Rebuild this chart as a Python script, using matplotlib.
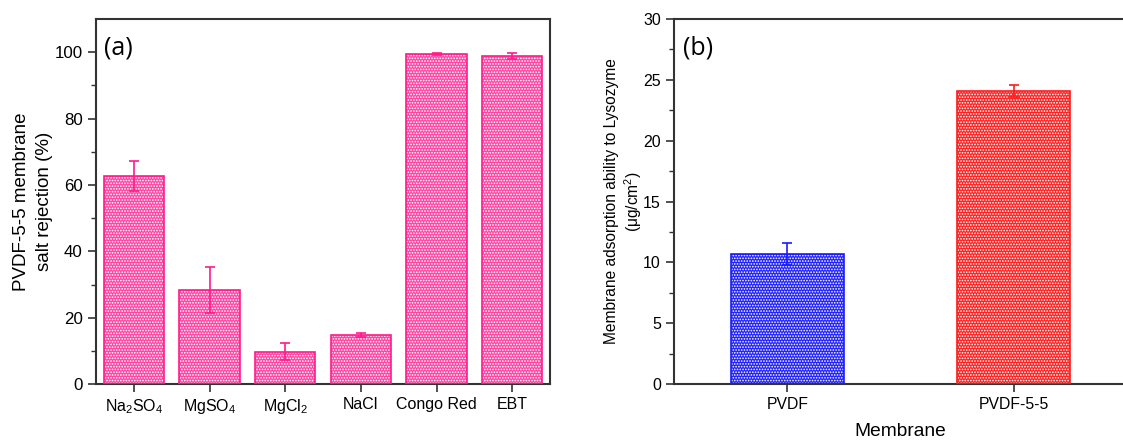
import numpy as np
import matplotlib
matplotlib.use("Agg")
import matplotlib.pyplot as plt

plt.rcParams['font.family'] = ['Liberation Sans', 'DejaVu Sans']
plt.rcParams['mathtext.default'] = 'regular'
plt.rcParams['hatch.linewidth'] = 0.8

# panel (a): salt / dye rejection
salts = [r'Na$_2$SO$_4$', r'MgSO$_4$', r'MgCl$_2$', 'NaCl', 'Congo Red', 'EBT']
rejection = [62.8, 28.4, 9.8, 14.8, 99.4, 98.8]
rejection_err = [4.5, 6.9, 2.6, 0.5, 0.2, 1.0]

# panel (b): lysozyme adsorption
membranes = ['PVDF', 'PVDF-5-5']
adsorption = [10.7, 24.1]
adsorption_err = [0.9, 0.5]

fig = plt.figure(figsize=(11.23, 4.41), dpi=100)
ax1 = fig.add_axes([0.0855, 0.129, 0.4043, 0.828])
ax2 = fig.add_axes([0.6002, 0.129, 0.4034, 0.828])

spine_c = '#333333'


def hatched_bars(ax, x, h, err, face, edge, width):
    ax.bar(x, h, width, color=face, hatch='......', edgecolor='white', linewidth=0, zorder=2)
    ax.bar(x, h, width, facecolor='none', edgecolor=edge, linewidth=1.2, zorder=3)
    ax.errorbar(x, h, yerr=err, fmt='none', ecolor=edge, elinewidth=1.2,
                capsize=3.5, capthick=1.2, zorder=4)


xa = np.arange(len(salts))
hatched_bars(ax1, xa, rejection, rejection_err, '#ff45a2', '#ff1a8c', 0.8)
ax1.set_xlim(-0.5, len(salts) - 0.5)
ax1.set_ylim(0, 110)
ax1.set_xticks(xa)
ax1.set_xticklabels(salts, fontsize=11.5)
ax1.set_yticks(np.arange(0, 101, 20))
ax1.set_yticks(np.arange(10, 110, 20), minor=True)
ax1.set_ylabel('PVDF-5-5 membrane\nsalt rejection (%)', fontsize=13.5, labelpad=1,
               linespacing=1.5)
ax1.text(0.018, 0.955, '(a)', transform=ax1.transAxes, fontsize=18,
         family=['Open Sans', 'DejaVu Sans'], va='top', ha='left')

xb = np.arange(len(membranes))
hatched_bars(ax2, xb[:1], adsorption[:1], adsorption_err[:1], '#2222ff', '#1a1aff', 0.5)
hatched_bars(ax2, xb[1:], adsorption[1:], adsorption_err[1:], '#ff2222', '#ff1a1a', 0.5)
ax2.set_xlim(-0.5, len(membranes) - 0.5)
ax2.set_ylim(0, 30)
ax2.set_xticks(xb)
ax2.set_xticklabels(membranes, fontsize=11.3)
ax2.set_yticks(np.arange(0, 31, 5))
ax2.set_yticks(np.arange(2.5, 30, 5), minor=True)
ax2.set_ylabel('Membrane adsorption ability to Lysozyme\n(μg/cm$^2$)', fontsize=11.2,
               labelpad=-1)
ax2.set_xlabel('Membrane', fontsize=13.8, labelpad=8)
ax2.text(0.02, 0.955, '(b)', transform=ax2.transAxes, fontsize=18,
         family=['Open Sans', 'DejaVu Sans'], va='top', ha='left')
ax2.spines['right'].set_visible(False)

for ax in (ax1, ax2):
    for s in ax.spines.values():
        s.set_color(spine_c)
        s.set_linewidth(1.5)
    ax.tick_params(axis='both', which='major', direction='out', length=6, width=1.2,
                   color=spine_c)
    ax.tick_params(axis='y', which='minor', direction='out', length=3.5, width=1.0, color=spine_c)
    ax.tick_params(axis='y', which='major', labelsize=12.2 if ax is ax1 else 11.5)
    ax.tick_params(axis='x', which='minor', length=0)

fig.savefig('out.png', dpi=100)
